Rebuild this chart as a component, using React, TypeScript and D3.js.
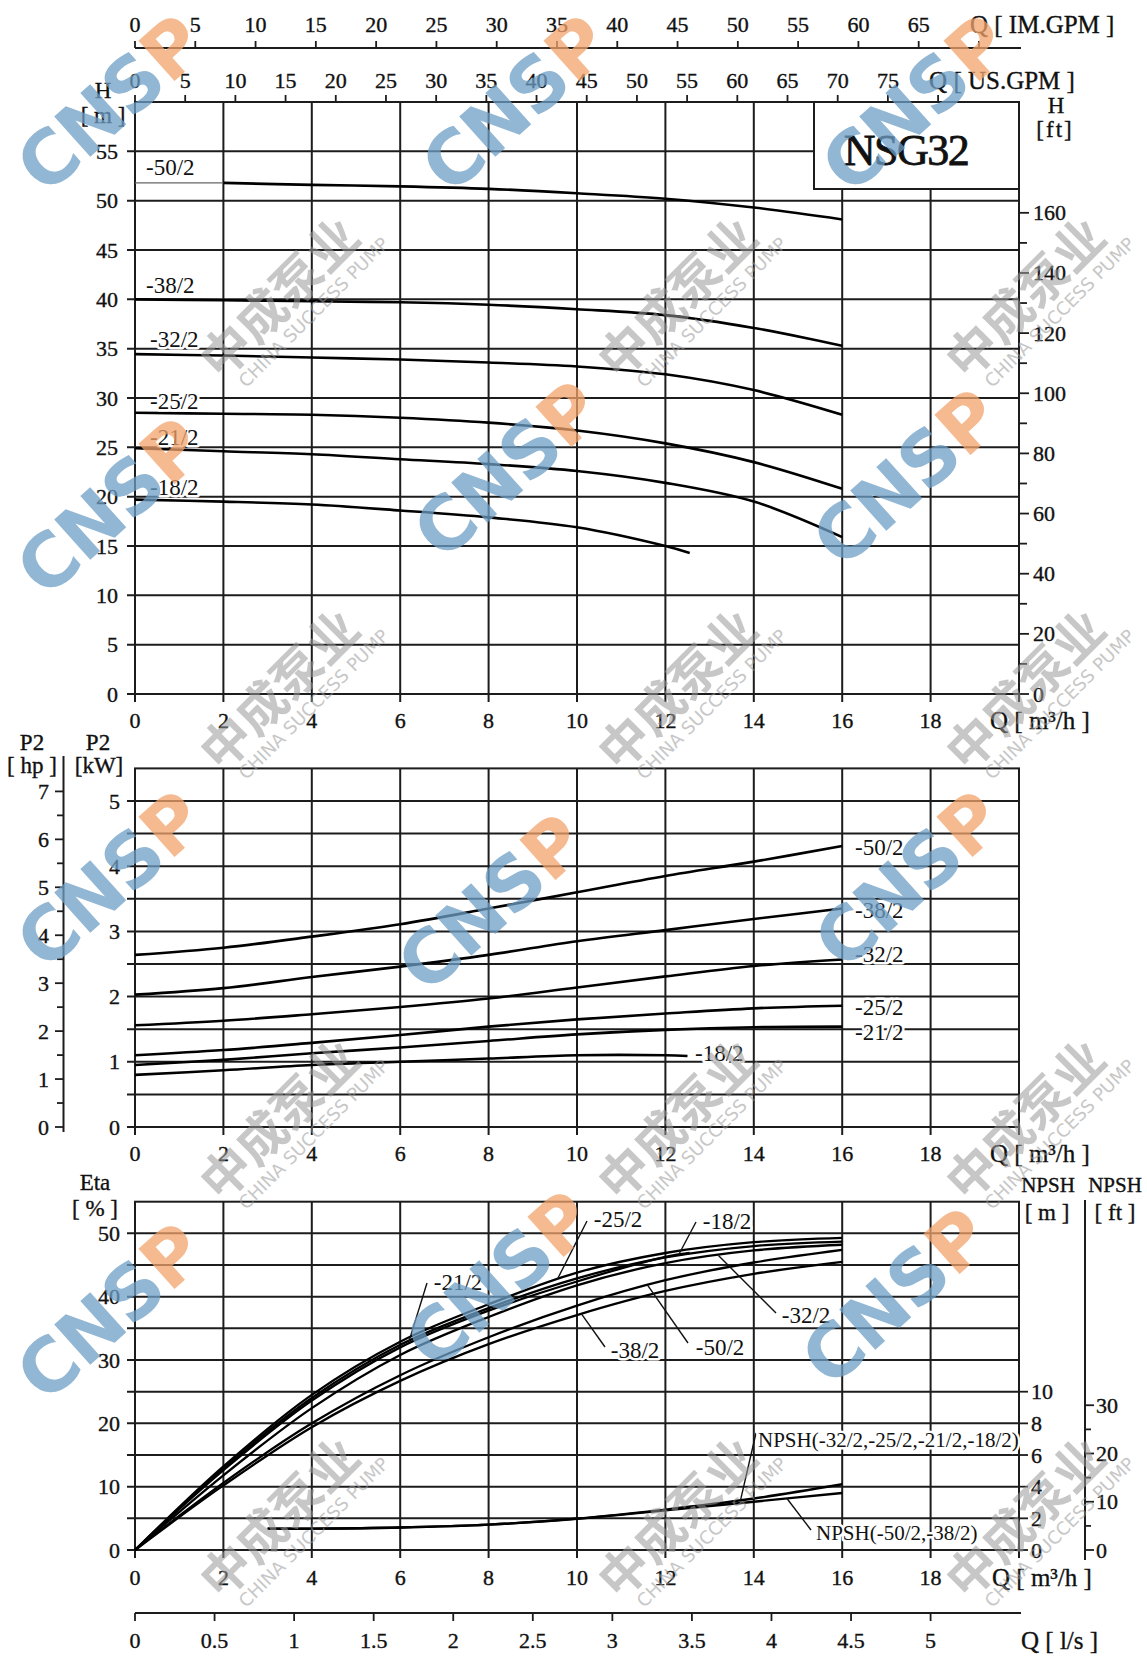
import React from "react";
import * as d3 from "d3";

// ---------------- data ----------------
const models = ["-50/2", "-38/2", "-32/2", "-25/2", "-21/2", "-18/2"];

// flow points, m3/h
const qFlow = [0, 2, 4, 6, 8, 10, 12, 14, 16];
const qFlow50 = [2, 4, 6, 8, 10, 12, 14, 16];
const qFlow18 = [0, 2, 4, 6, 8, 10, 12, 12.55];
const qFlow18P = [0, 2, 4, 6, 8, 10, 12, 12.5];
const qNpsh = [3, 4, 6, 8, 10, 12, 14, 16];

// head H [m]
const head50 = [51.8, 51.6, 51.45, 51.2, 50.75, 50.2, 49.3, 48.1];
const head38 = [40.0, 39.9, 39.8, 39.7, 39.45, 39.0, 38.4, 37.1, 35.3];
const head32 = [34.45, 34.3, 34.1, 33.9, 33.6, 33.2, 32.4, 30.8, 28.3];
const head25 = [28.5, 28.4, 28.3, 28.0, 27.5, 26.7, 25.4, 23.5, 20.8];
const head21 = [24.9, 24.6, 24.3, 23.8, 23.3, 22.6, 21.4, 19.5, 15.9];
const head18 = [19.7, 19.5, 19.2, 18.6, 17.9, 16.9, 15.0, 14.3];

// power P2 [kW]
const power50 = [2.64, 2.75, 2.92, 3.11, 3.35, 3.6, 3.85, 4.07, 4.31];
const power38 = [2.03, 2.13, 2.3, 2.46, 2.64, 2.85, 3.02, 3.19, 3.35];
const power32 = [1.56, 1.63, 1.73, 1.84, 1.97, 2.14, 2.31, 2.47, 2.57];
const power25 = [1.1, 1.18, 1.29, 1.41, 1.54, 1.65, 1.74, 1.82, 1.86];
const power21 = [0.95, 1.03, 1.13, 1.22, 1.32, 1.42, 1.49, 1.53, 1.54];
const power18 = [0.8, 0.87, 0.95, 1.0, 1.05, 1.1, 1.1, 1.09];

// efficiency Eta [%]
const eta50 = [0, 10.6, 20.0, 27.6, 33.6, 38.6, 42.6, 45.4, 47.4];
const eta38 = [0, 10.2, 19.4, 26.7, 32.5, 37.1, 40.9, 43.6, 45.5];
const eta32 = [0, 11.8, 22.4, 30.8, 36.8, 41.8, 45.3, 47.3, 48.2];
const eta25 = [0, 13.2, 24.5, 32.9, 38.8, 43.8, 46.9, 48.6, 49.3];
const eta21 = [0, 12.9, 24.0, 32.4, 38.2, 42.9, 46.2, 48.0, 48.7];
const eta18 = [0, 12.6, 23.6, 32.0, 37.8, 42.4, 46.3, 46.9];

// NPSH [m]
const npshSmall = [1.35, 1.35, 1.42, 1.6, 1.98, 2.55, 3.25, 4.15]; // -32/2,-25/2,-21/2,-18/2
const npshLarge = [1.35, 1.35, 1.42, 1.6, 1.97, 2.5, 3.05, 3.6]; // -50/2,-38/2

// tick labels
const qTicks = [0, 2, 4, 6, 8, 10, 12, 14, 16, 18];
const qGrid = [0, 2, 4, 6, 8, 10, 12, 14, 16, 18, 20];
const imGpmTicks = [0, 5, 10, 15, 20, 25, 30, 35, 40, 45, 50, 55, 60, 65];
const usGpmTicks = [0, 5, 10, 15, 20, 25, 30, 35, 40, 45, 50, 55, 60, 65, 70, 75];
const lsTicks = [0, 0.5, 1, 1.5, 2, 2.5, 3, 3.5, 4, 4.5, 5];
const hTicks = [0, 5, 10, 15, 20, 25, 30, 35, 40, 45, 50, 55];
const hFtTicks = [0, 20, 40, 60, 80, 100, 120, 140, 160];
const kwTicks = [0, 1, 2, 3, 4, 5];
const kwGrid = [0, 0.5, 1, 1.5, 2, 2.5, 3, 3.5, 4, 4.5, 5];
const hpTicks = [0, 1, 2, 3, 4, 5, 6, 7];
const etaTicks = [0, 10, 20, 30, 40, 50];
const etaGrid = [0, 5, 10, 15, 20, 25, 30, 35, 40, 45, 50];
const npshMTicks = [0, 2, 4, 6, 8, 10];
const npshFtTicks = [0, 10, 20, 30];

// watermark texts
const logoMain = "CNS";
const logoEnd = "P";
const markCn = "中成泵业";
const markEn = "CHINA SUCCESS PUMP";

// unit conversions
const IM_PER_M3H = 3.666;
const US_PER_M3H = 4.403;
const M3H_PER_LS = 3.6;
const FT_PER_M = 3.2808;
const HP_PER_KW = 1.36;

const FONT = "'Liberation Serif', 'Times New Roman', serif";
const GRID = "#1c1c1c";
const GW = 2.0;

function valueAt(qs: number[], vs: number[], q: number): number {
  for (let i = 0; i < qs.length - 1; i++) {
    if (q >= qs[i] && q <= qs[i + 1]) {
      const t = (q - qs[i]) / (qs[i + 1] - qs[i]);
      return vs[i] + t * (vs[i + 1] - vs[i]);
    }
  }
  return vs[vs.length - 1];
}

const T = (props: any) => {
  const { children, halo, ...rest } = props;
  return (
    <text
      fontFamily={FONT}
      dominantBaseline="central"
      fill="#111"
      {...(halo
        ? { stroke: "#fff", strokeWidth: 5, paintOrder: "stroke", strokeLinejoin: "round" }
        : { stroke: "#111", strokeWidth: 0.35 })}
      {...rest}
    >
      {children}
    </text>
  );
};

export default function App() {
  const x = d3.scaleLinear().domain([0, 20]).range([135, 1019]);
  const xIm = d3.scaleLinear().domain([0, 20 * IM_PER_M3H]).range([135, 1019]);
  const xUs = d3.scaleLinear().domain([0, 20 * US_PER_M3H]).range([135, 1019]);
  const xLs = d3.scaleLinear().domain([0, 20 / M3H_PER_LS]).range([135, 1019]);

  const yH = d3.scaleLinear().domain([0, 60]).range([694, 102]);
  const yHft = d3.scaleLinear().domain([0, 60 * FT_PER_M]).range([694, 102]);
  const yP = d3.scaleLinear().domain([0, 5.5]).range([1127, 768.4]);
  const yHp = d3.scaleLinear().domain([0, 5.5 * HP_PER_KW]).range([1127, 768.4]);
  const yE = d3.scaleLinear().domain([0, 55]).range([1550, 1201.7]);
  const yN = d3.scaleLinear().domain([0, 10]).range([1550, 1391.7]);
  const yNft = d3.scaleLinear().domain([0, 10 * FT_PER_M]).range([1550, 1391.7]);

  const mk = (ys: d3.ScaleLinear<number, number>) =>
    d3
      .line<[number, number]>()
      .x((d) => x(d[0]))
      .y((d) => ys(d[1]))
      .curve(d3.curveCatmullRom.alpha(0.5));
  const zip = (qs: number[], vs: number[]) => qs.map((q, i) => [q, vs[i]] as [number, number]);

  const headSeries = [
    zip(qFlow50, head50),
    zip(qFlow, head38),
    zip(qFlow, head32),
    zip(qFlow, head25),
    zip(qFlow, head21),
    zip(qFlow18, head18),
  ];
  const powerSeries = [
    zip(qFlow, power50),
    zip(qFlow, power38),
    zip(qFlow, power32),
    zip(qFlow, power25),
    zip(qFlow, power21),
    zip(qFlow18P, power18),
  ];
  const etaQs = [qFlow, qFlow, qFlow, qFlow, qFlow, qFlow18];
  const etaVs = [eta50, eta38, eta32, eta25, eta21, eta18];
  const etaSeries = etaVs.map((v, i) => zip(etaQs[i], v));
  const npshSeries = [zip(qNpsh, npshSmall), zip(qNpsh, npshLarge)];

  const lineH = mk(yH);
  const lineP = mk(yP);
  const lineE = mk(yE);
  const lineN = mk(yN);

  // label layout
  const headLabelPos = [
    [146, 167],
    [146, 285],
    [150, 339],
    [150, 401],
    [150, 437],
    [150, 487],
  ];
  const powerLabelPos = [
    [855, 847],
    [855, 910],
    [855, 954],
    [855, 1007],
    [855, 1032],
    [695, 1053],
  ];
  // [labelCenterX, labelCenterY, leaderStartX, leaderStartY, targetQ]
  const etaLabelPos = [
    [720, 1347, 688, 1343, 11.6],
    [635, 1350, 605, 1347, 10.1],
    [806, 1315, 776, 1313, 13.2],
    [618, 1219, 587, 1221, 9.55],
    [458, 1282, 427, 1283, 6.2],
    [727, 1221, 696, 1222, 12.3],
  ];

  // watermark placement
  const logoPos = [
    [110, 104],
    [515, 104],
    [915, 104],
    [110, 507],
    [507, 470],
    [906, 478],
    [110, 880],
    [491, 903],
    [908, 880],
    [110, 1312],
    [499, 1280],
    [895, 1297],
  ];
  const markXs = [288, 686, 1034];
  const markYs = [298, 690, 1120, 1518];

  const frame = (y0: number, y1: number) => (
    <rect x={135} y={y0} width={884} height={y1 - y0} fill="none" stroke={GRID} strokeWidth={GW} />
  );

  return (
    <svg
      width={1147}
      height={1656}
      viewBox="0 0 1147 1656"
      style={{ position: "absolute", left: 0, top: 0, background: "#fff" }}
    >
      <rect x={0} y={0} width={1147} height={1656} fill="#fff" />

      {/* ---------- top secondary axes: IM.GPM / US.GPM ---------- */}
      <line x1={135} x2={1021} y1={48} y2={48} stroke={GRID} strokeWidth={GW} />
      {[...imGpmTicks, 70].map((v) => (
        <line key={"imt" + v} x1={xIm(v)} x2={xIm(v)} y1={48} y2={41} stroke={GRID} strokeWidth={1.8} />
      ))}
      {imGpmTicks.map((v) => (
        <T key={"iml" + v} x={xIm(v)} y={24} fontSize={22} textAnchor="middle">
          {v}
        </T>
      ))}
      <T x={xIm(70) - 9} y={24} fontSize={25}>
        Q [ IM.GPM ]
      </T>
      {[...usGpmTicks, 80].map((v) => (
        <line key={"ust" + v} x1={xUs(v)} x2={xUs(v)} y1={102} y2={95} stroke={GRID} strokeWidth={1.8} />
      ))}
      {usGpmTicks.map((v) => (
        <T key={"usl" + v} x={xUs(v)} y={80} fontSize={22} textAnchor="middle">
          {v}
        </T>
      ))}
      <T x={xUs(80) - 9} y={80} fontSize={25}>
        Q [ US.GPM ]
      </T>

      {/* ---------- H chart ---------- */}
      <g>
        {qGrid.map((q) => (
          <line key={"hv" + q} x1={x(q)} x2={x(q)} y1={102} y2={702} stroke={GRID} strokeWidth={GW} />
        ))}
        {hTicks.map((h) => (
          <line key={"hh" + h} x1={127} x2={1019} y1={yH(h)} y2={yH(h)} stroke={GRID} strokeWidth={GW} />
        ))}
        {frame(102, 694)}
        {/* title box */}
        <rect x={814} y={102} width={205} height={87} fill="#fff" stroke={GRID} strokeWidth={GW} />
        <T x={906} y={150} fontSize={44} textAnchor="middle" letterSpacing={-1.5} strokeWidth={0.8}>
          NSG32
        </T>
        {hTicks.map((h) => (
          <T key={"hl" + h} x={118} y={yH(h)} fontSize={22} textAnchor="end">
            {h}
          </T>
        ))}
        <T x={103} y={90} fontSize={23} textAnchor="middle">
          H
        </T>
        <T x={103} y={115} fontSize={23} textAnchor="middle">
          [ m ]
        </T>
        {/* ft axis */}
        {d3.range(0, 170, 10).map((f) => (
          <line
            key={"ft" + f}
            x1={1019}
            x2={f % 20 === 0 ? 1029 : 1027}
            y1={yHft(f)}
            y2={yHft(f)}
            stroke={GRID}
            strokeWidth={1.8}
          />
        ))}
        {hFtTicks.map((f) => (
          <T key={"ftl" + f} x={1033} y={yHft(f)} fontSize={22}>
            {f}
          </T>
        ))}
        <T x={1056} y={105} fontSize={23} textAnchor="middle">
          H
        </T>
        <T x={1055} y={129} fontSize={23} textAnchor="middle" letterSpacing={2}>
          [ft]
        </T>
        {qTicks.map((q) => (
          <T key={"hq" + q} x={x(q)} y={720} fontSize={22} textAnchor="middle">
            {q}
          </T>
        ))}
        <T x={990} y={720} fontSize={25}>
          Q [ m³/h ]
        </T>
        {/* leader under -50/2 label */}
        <line
          x1={x(0)}
          x2={x(qFlow50[0])}
          y1={yH(head50[0])}
          y2={yH(head50[0])}
          stroke="#666"
          strokeWidth={1.4}
        />
        {headSeries.map((s, i) => (
          <path key={"hc" + i} d={lineH(s) || ""} fill="none" stroke="#000" strokeWidth={2.6} />
        ))}
        {models.map((m, i) => (
          <T key={"hlab" + i} x={headLabelPos[i][0]} y={headLabelPos[i][1]} fontSize={23} halo>
            {m}
          </T>
        ))}
      </g>

      {/* ---------- P2 chart ---------- */}
      <g>
        {qGrid.map((q) => (
          <line key={"pv" + q} x1={x(q)} x2={x(q)} y1={768.4} y2={1135} stroke={GRID} strokeWidth={GW} />
        ))}
        {kwGrid.map((p) => (
          <line key={"ph" + p} x1={127} x2={1019} y1={yP(p)} y2={yP(p)} stroke={GRID} strokeWidth={GW} />
        ))}
        {frame(768.4, 1127)}
        {kwTicks.map((p) => (
          <T key={"pl" + p} x={120} y={yP(p)} fontSize={22} textAnchor="end">
            {p}
          </T>
        ))}
        {/* hp axis */}
        <line x1={63.5} x2={63.5} y1={756} y2={1132} stroke={GRID} strokeWidth={GW} />
        {d3.range(0, 7.5, 0.5).map((h) => (
          <line
            key={"hp" + h}
            x1={h % 1 === 0 ? 55 : 57}
            x2={63.5}
            y1={yHp(h)}
            y2={yHp(h)}
            stroke={GRID}
            strokeWidth={1.8}
          />
        ))}
        {hpTicks.map((h) => (
          <T key={"hpl" + h} x={49} y={yHp(h)} fontSize={22} textAnchor="end">
            {h}
          </T>
        ))}
        <T x={32} y={742} fontSize={23} textAnchor="middle">
          P2
        </T>
        <T x={32} y={765} fontSize={23} textAnchor="middle">
          [ hp ]
        </T>
        <T x={98} y={742} fontSize={23} textAnchor="middle">
          P2
        </T>
        <T x={99} y={765} fontSize={23} textAnchor="middle">
          [kW]
        </T>
        {qTicks.map((q) => (
          <T key={"pq" + q} x={x(q)} y={1153} fontSize={22} textAnchor="middle">
            {q}
          </T>
        ))}
        <T x={990} y={1153} fontSize={25}>
          Q [ m³/h ]
        </T>
        {powerSeries.map((s, i) => (
          <path key={"pc" + i} d={lineP(s) || ""} fill="none" stroke="#000" strokeWidth={2.6} />
        ))}
        {models.map((m, i) => (
          <T key={"plab" + i} x={powerLabelPos[i][0]} y={powerLabelPos[i][1]} fontSize={23} halo>
            {m}
          </T>
        ))}
      </g>

      {/* ---------- Eta / NPSH chart ---------- */}
      <g>
        {qGrid.map((q) => (
          <line key={"ev" + q} x1={x(q)} x2={x(q)} y1={1201.7} y2={1558} stroke={GRID} strokeWidth={GW} />
        ))}
        {etaGrid.map((e) => (
          <line key={"eh" + e} x1={127} x2={1019} y1={yE(e)} y2={yE(e)} stroke={GRID} strokeWidth={GW} />
        ))}
        {frame(1201.7, 1550)}
        {etaTicks.map((e) => (
          <T key={"el" + e} x={120} y={yE(e)} fontSize={22} textAnchor="end">
            {e}
          </T>
        ))}
        <T x={95} y={1182} fontSize={23} textAnchor="middle">
          Eta
        </T>
        <T x={95} y={1208} fontSize={23} textAnchor="middle">
          [ % ]
        </T>
        {/* NPSH m axis (right frame) */}
        {npshMTicks.map((n) => (
          <line key={"nm" + n} x1={1019} x2={1028} y1={yN(n)} y2={yN(n)} stroke={GRID} strokeWidth={1.8} />
        ))}
        {npshMTicks.map((n) => (
          <T key={"nml" + n} x={1031} y={yN(n)} fontSize={22}>
            {n}
          </T>
        ))}
        {/* NPSH ft axis */}
        <line x1={1085} x2={1085} y1={1200} y2={1560} stroke={GRID} strokeWidth={GW} />
        {d3.range(0, 35, 5).map((f) => (
          <line
            key={"nf" + f}
            x1={1085}
            x2={f % 10 === 0 ? 1094 : 1091}
            y1={yNft(f)}
            y2={yNft(f)}
            stroke={GRID}
            strokeWidth={1.8}
          />
        ))}
        {npshFtTicks.map((f) => (
          <T key={"nfl" + f} x={1096} y={yNft(f)} fontSize={22}>
            {f}
          </T>
        ))}
        <T x={1048} y={1185} fontSize={21} textAnchor="middle">
          NPSH
        </T>
        <T x={1047} y={1212} fontSize={23} textAnchor="middle">
          [ m ]
        </T>
        <T x={1115} y={1185} fontSize={21} textAnchor="middle">
          NPSH
        </T>
        <T x={1115} y={1212} fontSize={23} textAnchor="middle">
          [ ft ]
        </T>
        {qTicks.map((q) => (
          <T key={"eq" + q} x={x(q)} y={1577} fontSize={22} textAnchor="middle">
            {q}
          </T>
        ))}
        <T x={992} y={1577} fontSize={25}>
          Q [ m³/h ]
        </T>
        {etaSeries.map((s, i) => (
          <path key={"ec" + i} d={lineE(s) || ""} fill="none" stroke="#000" strokeWidth={2.3} />
        ))}
        {npshSeries.map((s, i) => (
          <path key={"nc" + i} d={lineN(s) || ""} fill="none" stroke="#000" strokeWidth={2.4} />
        ))}
        {/* eta labels with leaders */}
        {models.map((m, i) => {
          const [lx, ly, sx, sy, tq] = etaLabelPos[i];
          const ty = yE(valueAt(etaQs[i], etaVs[i], tq));
          return (
            <g key={"elab" + i}>
              <line x1={sx} y1={sy} x2={x(tq)} y2={ty} stroke="#111" strokeWidth={1.4} />
              <T x={lx} y={ly} fontSize={23} textAnchor="middle" halo>
                {m}
              </T>
            </g>
          );
        })}
        {/* NPSH labels */}
        <line
          x1={756}
          y1={1433}
          x2={x(13.7)}
          y2={yN(valueAt(qNpsh, npshSmall, 13.7))}
          stroke="#111"
          strokeWidth={1.4}
        />
        <T x={758} y={1440} fontSize={21} halo>
          NPSH(-32/2,-25/2,-21/2,-18/2)
        </T>
        <line
          x1={811}
          y1={1530}
          x2={x(14.75)}
          y2={yN(valueAt(qNpsh, npshLarge, 14.75))}
          stroke="#111"
          strokeWidth={1.4}
        />
        <T x={816} y={1533} fontSize={21} halo>
          NPSH(-50/2,-38/2)
        </T>
      </g>

      {/* ---------- l/s axis ---------- */}
      <line x1={135} x2={1021} y1={1613} y2={1613} stroke={GRID} strokeWidth={GW} />
      {lsTicks.map((v) => (
        <line key={"lst" + v} x1={xLs(v)} x2={xLs(v)} y1={1613} y2={1621} stroke={GRID} strokeWidth={1.8} />
      ))}
      {lsTicks.map((v) => (
        <T key={"lsl" + v} x={xLs(v)} y={1640} fontSize={22} textAnchor="middle">
          {v}
        </T>
      ))}
      <T x={1021} y={1640} fontSize={25}>
        Q [ l/s ]
      </T>

      {/* ---------- watermarks ---------- */}
      <g pointerEvents="none">
        {markYs.map((my, r) =>
          markXs.map((mx, c) => (
            <g key={"mk" + r + "-" + c} transform={`translate(${mx},${my}) rotate(-45)`} opacity={0.55}>
              <text
                x={-6}
                y={-10}
                textAnchor="middle"
                dominantBaseline="central"
                fontFamily="'Noto Sans CJK SC', sans-serif"
                fontWeight="bold"
                fontSize={50}
                fill="#9a9a9a"
              >
                {markCn}
              </text>
              <text
                x={8}
                y={28}
                textAnchor="middle"
                dominantBaseline="central"
                fontFamily="'DejaVu Sans', sans-serif"
                fontSize={18}
                fill="#9a9a9a"
              >
                {markEn}
              </text>
            </g>
          ))
        )}
        {logoPos.map(([lx, ly], i) => (
          <text
            key={"lg" + i}
            transform={`translate(${lx},${ly}) rotate(-42)`}
            textAnchor="middle"
            dominantBaseline="central"
            fontFamily="'DejaVu Sans', sans-serif"
            fontWeight="bold"
            fontSize={74}
            letterSpacing={-1}
            opacity={0.75}
          >
            <tspan fill="#6e9fc6">{logoMain}</tspan>
            <tspan fill="#f3a36c">{logoEnd}</tspan>
          </text>
        ))}
      </g>
    </svg>
  );
}
